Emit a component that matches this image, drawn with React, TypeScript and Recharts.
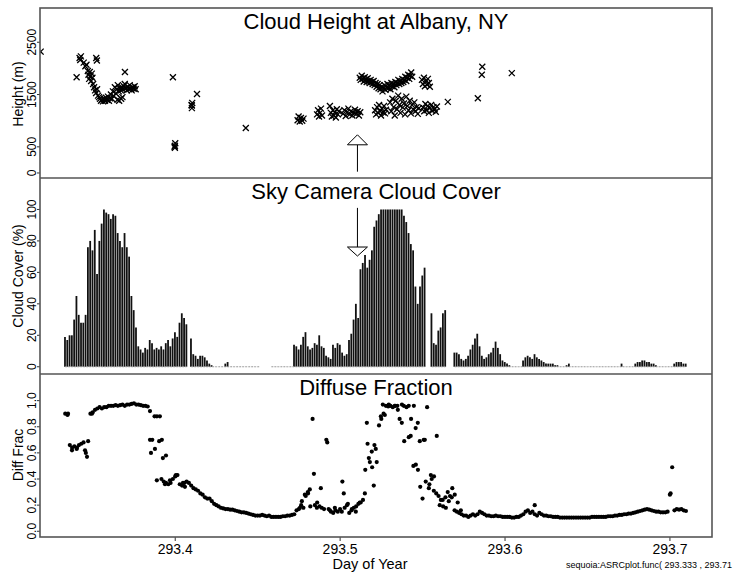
import React from "react";
import {
  ScatterChart,
  ComposedChart,
  Scatter,
  Bar,
  Line,
  XAxis,
  YAxis,
  ReferenceLine,
  ReferenceDot,
} from "recharts";

const FONT = "'Liberation Sans', Arial, Helvetica, sans-serif";
const FRAME = "#555";

// shared day-of-year axis
const DAY_MIN = 293.318;
const DAY_MAX = 293.7255;
const dayTicks = [293.4, 293.5, 293.6, 293.7];

const heightTicks = [0, 500, 1500, 2500];
const coverTicks = [0, 20, 40, 60, 80, 100];
const fracTicks = [0, 0.2, 0.4, 0.6, 0.8, 1.0];

// camera + radiometer samples, every 2 minutes from 293.3333
const SAMPLE_START = 293.3333;
const SAMPLE_STEP = 2 / 1440;

// sky camera cloud cover (%), null = no image
const skyCover: (number | null)[] = [
  19, 17, 20, 20, 30, 45, 33, 28, 28, 33,
  76, 80, 74, 87, 59, 80, 91, 100, 98, 97,
  94, 97, 96, 85, 80, 76, 85, 76, 70, 45,
  36, 25, 13, 11, 9, 12, 11, 17, 15, 11,
  12, 11, 13, 11, 15, 17, 13, 18, 22, 19,
  28, 34, 31, 27, null, 18, 8, 7, 5, 7,
  7, 6, 4, 2, 1, 0, 0, 0, 0, 0,
  2, 3, 0, 0, 0, 0, 0, 0, 0, 0,
  0, 0, 0, 0, 0, 0, null, null, null, null,
  0, 0, 0, 0, 0, 0, 0, 0, 0, 0,
  14, 13, 11, 14, 19, 22, 13, 11, 12, 15,
  14, 20, 13, 12, 7, 6, 5, 14, 12, 15,
  14, 9, 7, 8, 17, 21, 30, 40, 31, 62,
  66, 71, 63, 68, 74, 89, 93, 97, 100, 100,
  100, 100, 100, 100, 100, 100, 100, 100, 96, 92,
  85, 78, 74, 51, 40, 51, 58, 63, null, null,
  34, 15, 14, 23, 25, 34, 36, null, null, null,
  9, 9, 8, 5, 4, 5, 7, 11, 14, 18,
  21, 13, 7, 5, 6, 8, 9, 12, 16, 12,
  8, 4, 3, 2, 1, 0, 0, 0, 0, 0,
  4, 6, 7, 6, 5, 8, 6, 5, 4, 3,
  2, 2, 2, 2, 1, 1, 0, 0, 0, 1,
  2, 0, 0, 0, 0, 0, 0, 0, 0, 0,
  0, 0, 0, 0, 0, 0, 0, 0, 0, 0,
  0, 0, 0, 2, 0, 0, 0, 0, 0, 2,
  3, 3, 4, 4, 3, 3, 2, 2, 1, 0,
  0, 0, 0, 0, 0, 0, 2, 3, 3, 3,
  2, 2,
];

// diffuse / global fraction on the same 2-minute grid
const diffFrac = [
  0.9, 0.89, 0.66, 0.64, 0.65, 0.63, 0.66, 0.67, 0.68, 0.6,
  0.69, 0.9, 0.91, 0.93, 0.94, 0.95, 0.94, 0.95, 0.95, 0.96,
  0.96, 0.96, 0.965, 0.96, 0.965, 0.97, 0.96, 0.97, 0.97, 0.975,
  0.98, 0.97, 0.97, 0.965, 0.96, 0.96, 0.955, 0.92, 0.7, 0.88,
  0.39, 0.69, 0.4, 0.38, 0.37, 0.36, 0.37, 0.4, 0.42, 0.43,
  0.36, 0.35, 0.37, 0.38, 0.37, 0.35, 0.33, 0.32, 0.31, 0.29,
  0.28, 0.26, 0.25, 0.25, 0.23, 0.21, 0.2, 0.19, 0.18, 0.175,
  0.17, 0.17, 0.165, 0.165, 0.16, 0.155, 0.15, 0.145, 0.145, 0.14,
  0.135, 0.13, 0.125, 0.12, 0.12, 0.12, 0.125, 0.12, 0.115, 0.12,
  0.11, 0.11, 0.11, 0.11, 0.11, 0.115, 0.115, 0.12, 0.12, 0.125,
  0.13, 0.16, 0.17, 0.2, 0.18, 0.27, 0.29, 0.19, 0.86, 0.2,
  0.22, 0.19, 0.18, 0.17, 0.7, 0.17, 0.15, 0.14, 0.16, 0.15,
  0.17, 0.38, 0.18, 0.2, 0.14, 0.16, 0.18, 0.19, 0.21, 0.22,
  0.24, 0.47, 0.67, 0.53, 0.49, 0.66, 0.53, 0.81, 0.86, 0.9,
  0.96, 0.955, 0.96, 0.95, 0.96, 0.96, 0.86, 0.97, 0.69, 0.95,
  0.72, 0.86, 0.5, 0.79, 0.47, 0.34, 0.25, 0.7, 0.95, 0.36,
  0.4, 0.42, 0.29, 0.27, 0.24, 0.19, 0.26, 0.3, 0.27, 0.33,
  0.16, 0.15, 0.14, 0.13, 0.12, 0.12, 0.11, 0.12, 0.13, 0.12,
  0.13, 0.15, 0.14, 0.13, 0.12, 0.12, 0.115, 0.115, 0.12, 0.115,
  0.115, 0.11, 0.11, 0.11, 0.11, 0.105, 0.105, 0.11, 0.11, 0.12,
  0.13, 0.15, 0.16, 0.14, 0.15, 0.13, 0.12, 0.14, 0.13, 0.12,
  0.12, 0.115, 0.115, 0.11, 0.11, 0.11, 0.105, 0.105, 0.105, 0.105,
  0.105, 0.105, 0.105, 0.105, 0.105, 0.105, 0.105, 0.105, 0.105, 0.105,
  0.11, 0.11, 0.11, 0.11, 0.11, 0.11, 0.11, 0.115, 0.115, 0.115,
  0.12, 0.12, 0.125, 0.125, 0.13, 0.13, 0.135, 0.135, 0.14, 0.145,
  0.15, 0.155, 0.16, 0.165, 0.17, 0.165, 0.16, 0.155, 0.15, 0.15,
  0.145, 0.145, 0.145, 0.15, 0.28, 0.49, 0.16, 0.17, 0.165, 0.17,
  0.16, 0.155,
];

// extra 1-minute radiometer samples during broken cloud [day, fraction]
const diffExtra: [number, number][] = [
  [293.335, 0.9], [293.3374, 0.62], [293.3404, 0.64], [293.3453, 0.62], [293.3465, 0.57], [293.3495, 0.9],
  [293.3847, 0.7], [293.3853, 0.6], [293.3877, 0.63], [293.3889, 0.88], [293.3907, 0.88], [293.3919, 0.7],
  [293.3925, 0.56], [293.3944, 0.58], [293.3938, 0.36], [293.3968, 0.39], [293.4004, 0.43], [293.4047, 0.37],
  [293.4059, 0.34],
  [293.4756, 0.18], [293.4768, 0.23], [293.4786, 0.28], [293.4804, 0.3], [293.4816, 0.32], [293.4841, 0.44],
  [293.4859, 0.18], [293.4883, 0.33], [293.4922, 0.68], [293.4938, 0.16], [293.4968, 0.18], [293.501, 0.15],
  [293.5022, 0.29], [293.5047, 0.21], [293.5071, 0.17], [293.5095, 0.15], [293.5119, 0.22], [293.515, 0.29],
  [293.5162, 0.83], [293.5174, 0.56], [293.5192, 0.61], [293.5204, 0.35], [293.5216, 0.63],
  [293.5247, 0.88], [293.5259, 0.97], [293.5271, 0.89], [293.5295, 0.97], [293.5332, 0.96], [293.535, 0.93],
  [293.5374, 0.83], [293.5386, 0.96], [293.5416, 0.96], [293.5428, 0.73], [293.5447, 0.96], [293.5459, 0.51],
  [293.5471, 0.83], [293.5483, 0.69], [293.5507, 0.7], [293.5519, 0.38], [293.5538, 0.33], [293.555, 0.43],
  [293.5568, 0.31], [293.5586, 0.73], [293.5604, 0.2], [293.5622, 0.24], [293.5641, 0.18], [293.5659, 0.23],
  [293.5677, 0.26], [293.5695, 0.28], [293.5713, 0.22], [293.5732, 0.16],
  [293.618, 0.2], [293.7004, 0.29],
];

// ceilometer cloud base heights [day, metres]
const cloudHeight: [number, number][] = [
  [293.3184, 2320], [293.3402, 1830],
  [293.342, 2200], [293.3424, 2160], [293.3428, 2230],
  [293.3445, 2110], [293.3455, 2040], [293.3462, 2070],
  [293.347, 1950], [293.3474, 1880], [293.3478, 1800], [293.3482, 1930], [293.3486, 1850],
  [293.349, 1760], [293.3494, 1900], [293.3498, 1820],
  [293.3521, 2200], [293.3525, 2150],
  [293.3502, 1700], [293.3508, 1640], [293.3514, 1580], [293.352, 1530], [293.3526, 1600],
  [293.3532, 1480], [293.3538, 1450], [293.3544, 1420], [293.355, 1380], [293.3556, 1400],
  [293.3562, 1370], [293.3568, 1420], [293.3574, 1380], [293.358, 1440], [293.3586, 1400],
  [293.3592, 1460], [293.3598, 1380], [293.3604, 1430], [293.361, 1500], [293.3616, 1420],
  [293.3622, 1560], [293.3628, 1470], [293.3634, 1640], [293.364, 1520], [293.3646, 1600],
  [293.365, 1400], [293.3652, 1680], [293.3658, 1560], [293.366, 1380], [293.3664, 1620],
  [293.367, 1580], [293.3672, 1420], [293.3676, 1640], [293.368, 1450], [293.3682, 1600],
  [293.3688, 1660], [293.3694, 1700], [293.37, 1620], [293.3706, 1580], [293.3712, 1650],
  [293.3718, 1600], [293.3724, 1680], [293.373, 1620], [293.3736, 1580], [293.3742, 1640],
  [293.3748, 1610], [293.3754, 1660], [293.376, 1600], [293.3695, 1930],
  [293.3986, 1830], [293.3998, 480], [293.3998, 520], [293.4, 570], [293.3996, 500],
  [293.4101, 1240], [293.4101, 1290], [293.4103, 1340], [293.4099, 1300], [293.4132, 1510],
  [293.4428, 860],
  [293.4742, 1010], [293.4748, 1080], [293.4755, 985], [293.4762, 1050], [293.477, 1000], [293.4778, 1040],
  [293.486, 1120], [293.4866, 1200], [293.4872, 1080], [293.4878, 1150], [293.4884, 1230], [293.489, 1100],
  [293.4938, 1280], [293.4944, 1150], [293.495, 1080], [293.4956, 1200], [293.4962, 1100],
  [293.4968, 1160], [293.4974, 1060], [293.498, 1220], [293.4986, 1120], [293.4992, 1180],
  [293.5018, 1130], [293.5026, 1200], [293.5034, 1090], [293.5042, 1160], [293.505, 1230],
  [293.5058, 1120], [293.5066, 1180], [293.5074, 1100], [293.5082, 1150], [293.509, 1210],
  [293.5098, 1130], [293.5106, 1180], [293.5114, 1100], [293.5122, 1160],
  [293.5119, 1820], [293.5125, 1780], [293.5131, 1860], [293.5137, 1800], [293.5143, 1750],
  [293.5149, 1830], [293.5155, 1790], [293.5161, 1740], [293.5167, 1810], [293.5173, 1760],
  [293.5179, 1720], [293.5185, 1780], [293.5191, 1740], [293.5197, 1700], [293.5203, 1760],
  [293.5209, 1680], [293.5215, 1720], [293.5221, 1650], [293.5227, 1700], [293.5233, 1620],
  [293.5239, 1680], [293.5245, 1600], [293.5251, 1650], [293.5257, 1560], [293.5263, 1620],
  [293.5269, 1680], [293.5275, 1590], [293.5281, 1640], [293.5287, 1700], [293.5293, 1620],
  [293.5299, 1680], [293.5305, 1600], [293.5311, 1720], [293.5317, 1660], [293.5323, 1700],
  [293.5329, 1640], [293.5335, 1740], [293.5341, 1680], [293.5347, 1720], [293.5353, 1780],
  [293.5359, 1700], [293.5365, 1760], [293.5371, 1720], [293.5377, 1800], [293.5383, 1740],
  [293.5389, 1780], [293.5395, 1840], [293.5401, 1760], [293.5407, 1820], [293.5413, 1880],
  [293.5419, 1800], [293.5425, 1860], [293.5431, 1920], [293.5437, 1840],
  [293.5212, 1200], [293.5218, 1120], [293.5224, 1260], [293.523, 1150], [293.5236, 1300],
  [293.5242, 1180], [293.5248, 1100], [293.5254, 1230], [293.526, 1160], [293.5266, 1280],
  [293.5272, 1140], [293.5278, 1210],
  [293.5303, 1350], [293.531, 1180], [293.5317, 1420], [293.5324, 1260], [293.5331, 1100],
  [293.5338, 1380], [293.5345, 1220], [293.5352, 1480], [293.5359, 1300], [293.5366, 1150],
  [293.5373, 1420], [293.538, 1250], [293.5387, 1330], [293.5394, 1120], [293.5401, 1460],
  [293.5408, 1280], [293.5415, 1200], [293.5422, 1380], [293.5429, 1140], [293.5436, 1300],
  [293.5443, 1220], [293.545, 1350], [293.5457, 1180], [293.5464, 1260], [293.5471, 1130],
  [293.5478, 1240],
  [293.5496, 1780], [293.5502, 1700], [293.5508, 1820], [293.5514, 1660], [293.552, 1750],
  [293.5526, 1690], [293.5532, 1800], [293.5538, 1720], [293.5544, 1650],
  [293.5503, 1250], [293.551, 1180], [293.5517, 1320], [293.5524, 1200], [293.5531, 1280],
  [293.5538, 1150], [293.5545, 1240], [293.5552, 1300], [293.5559, 1190], [293.5566, 1260],
  [293.5573, 1220], [293.558, 1170], [293.5587, 1270],
  [293.5653, 1360], [293.5835, 1430], [293.5859, 1880], [293.5862, 2030], [293.6041, 1910],
];

// time of the marked camera image
const ARROW_DAY = 293.5105;

const coverRows = skyCover.map((v, i) => ({
  day: SAMPLE_START + i * SAMPLE_STEP,
  cover: v,
  base: v === null ? null : 0,
}));
const fracRows = diffFrac.map((v, i) => ({ day: SAMPLE_START + i * SAMPLE_STEP, f: v }));
const fracExtraRows = diffExtra.map(([day, f]) => ({ day, f }));
const heightRows = cloudHeight.map(([day, h]) => ({ day, h }));

const VTick = (props: any) => {
  const { x, y, payload, digits } = props;
  const label = digits != null ? Number(payload.value).toFixed(digits) : String(payload.value);
  return (
    <text
      x={x + 1}
      y={y}
      transform={`rotate(-90 ${x + 1} ${y})`}
      textAnchor="middle"
      fontSize={12}
      fontFamily={FONT}
      fill="#000"
    >
      {label}
    </text>
  );
};

const XMark = (props: any) => {
  const { cx, cy } = props;
  if (cx == null || cy == null) return null;
  return (
    <path
      d={`M${cx - 3},${cy - 3}L${cx + 3},${cy + 3}M${cx + 3},${cy - 3}L${cx - 3},${cy + 3}`}
      stroke="#000"
      strokeWidth={1.3}
      fill="none"
    />
  );
};

const Dot = (props: any) => {
  const { cx, cy } = props;
  if (cx == null || cy == null) return null;
  return <circle cx={cx} cy={cy} r={2.1} fill="#000" />;
};

const UpHead = (props: any) => {
  const { cx, cy } = props;
  return (
    <path
      d={`M${cx},${cy}L${cx + 10},${cy + 10}L${cx - 10},${cy + 10}Z`}
      fill="#fff"
      stroke="#000"
      strokeWidth={1}
    />
  );
};

const DownHead = (props: any) => {
  const { cx, cy } = props;
  return (
    <path
      d={`M${cx},${cy}L${cx + 10},${cy - 9}L${cx - 10},${cy - 9}Z`}
      fill="#fff"
      stroke="#000"
      strokeWidth={1}
    />
  );
};

const xAxisProps = {
  type: "number" as const,
  dataKey: "day",
  domain: [DAY_MIN, DAY_MAX],
  allowDataOverflow: true,
  ticks: dayTicks,
};

const yAxisProps = {
  type: "number" as const,
  width: 40,
  allowDataOverflow: true,
  axisLine: false,
  tickSize: 3,
  tickMargin: 2,
  interval: 0 as const,
  tickLine: { stroke: "#333" },
};

export default function App() {
  return (
    <div
      style={{
        position: "absolute",
        left: 0,
        top: 0,
        width: 735,
        height: 573,
        overflow: "hidden",
        background: "#fff",
        fontFamily: FONT,
      }}
    >
      {/* cloud base height */}
      <div style={{ position: "absolute", left: 0, top: 0 }}>
        <ScatterChart width={735} height={180} margin={{ top: 8, right: 23, bottom: 2, left: 0 }}>
          <XAxis {...xAxisProps} hide />
          <YAxis
            {...yAxisProps}
            dataKey="h"
            domain={[-96, 3155]}
            ticks={heightTicks}
            tick={(p: any) => <VTick {...p} />}
          />
          <Scatter data={heightRows} shape={(p: any) => <XMark {...p} />} isAnimationActive={false} />
          <ReferenceLine
            segment={[
              { x: ARROW_DAY, y: 25 },
              { x: ARROW_DAY, y: 535 },
            ]}
            stroke="#000"
            strokeWidth={1}
          />
          <ReferenceDot x={ARROW_DAY} y={730} shape={(p: any) => <UpHead {...p} />} />
        </ScatterChart>
      </div>

      {/* sky camera cover */}
      <div style={{ position: "absolute", left: 0, top: 170 }}>
        <ComposedChart
          width={735}
          height={212}
          data={coverRows}
          margin={{ top: 8, right: 23, bottom: 8, left: 0 }}
        >
          <XAxis {...xAxisProps} hide />
          <YAxis
            {...yAxisProps}
            domain={[-4.6, 120]}
            ticks={coverTicks}
            tick={(p: any) => <VTick {...p} />}
          />
          <Line
            dataKey="base"
            stroke="#999"
            strokeWidth={1}
            strokeDasharray="2 1"
            dot={false}
            activeDot={false}
            connectNulls={false}
            isAnimationActive={false}
          />
          <Bar dataKey="cover" fill="#111" barSize={1.8} isAnimationActive={false} />
          <ReferenceLine
            segment={[
              { x: ARROW_DAY, y: 101 },
              { x: ARROW_DAY, y: 76 },
            ]}
            stroke="#000"
            strokeWidth={1}
          />
          <ReferenceDot x={ARROW_DAY} y={70.4} shape={(p: any) => <DownHead {...p} />} />
        </ComposedChart>
      </div>

      {/* diffuse fraction */}
      <div style={{ position: "absolute", left: 0, top: 366 }}>
        <ScatterChart width={735} height={207} margin={{ top: 8, right: 23, bottom: 0, left: 0 }}>
          <XAxis
            {...xAxisProps}
            height={36}
            axisLine={false}
            tickSize={4}
            tickMargin={3}
            interval={0}
            tickLine={{ stroke: "#333" }}
            tick={{ fontSize: 14, fill: "#000", fontFamily: FONT }}
            tickFormatter={(v: number) => v.toFixed(1)}
          />
          <YAxis
            {...yAxisProps}
            dataKey="f"
            domain={[-0.044, 1.204]}
            ticks={fracTicks}
            tick={(p: any) => <VTick {...p} digits={1} />}
          />
          <Scatter data={fracRows} shape={(p: any) => <Dot {...p} />} isAnimationActive={false} />
          <Scatter data={fracExtraRows} shape={(p: any) => <Dot {...p} />} isAnimationActive={false} />
        </ScatterChart>
      </div>

      {/* panel frames and text */}
      <svg
        width={735}
        height={573}
        style={{ position: "absolute", left: 0, top: 0, pointerEvents: "none" }}
        fontFamily={FONT}
      >
        <rect x={40} y={8} width={672} height={529} fill="none" stroke={FRAME} strokeWidth={1.6} />
        <line x1={40} y1={178} x2={712} y2={178} stroke={FRAME} strokeWidth={1.6} />
        <line x1={40} y1={374} x2={712} y2={374} stroke={FRAME} strokeWidth={1.6} />

        <text x={376} y={28.5} textAnchor="middle" fontSize={22}>Cloud Height at Albany, NY</text>
        <text x={376} y={198.5} textAnchor="middle" fontSize={22}>Sky Camera Cloud Cover</text>
        <text x={376} y={395} textAnchor="middle" fontSize={22}>Diffuse Fraction</text>

        <text x={23} y={94} transform="rotate(-90 23 94)" textAnchor="middle" fontSize={14}>Height (m)</text>
        <text x={23} y={276} transform="rotate(-90 23 276)" textAnchor="middle" fontSize={14}>Cloud Cover (%)</text>
        <text x={23} y={455} transform="rotate(-90 23 455)" textAnchor="middle" fontSize={14}>Diff Frac</text>

        <text x={370} y={569} textAnchor="middle" fontSize={14.5}>Day of Year</text>
        <text x={566} y={568} fontSize={9}>sequoia:ASRCplot.func( 293.333 , 293.71</text>
      </svg>
    </div>
  );
}
